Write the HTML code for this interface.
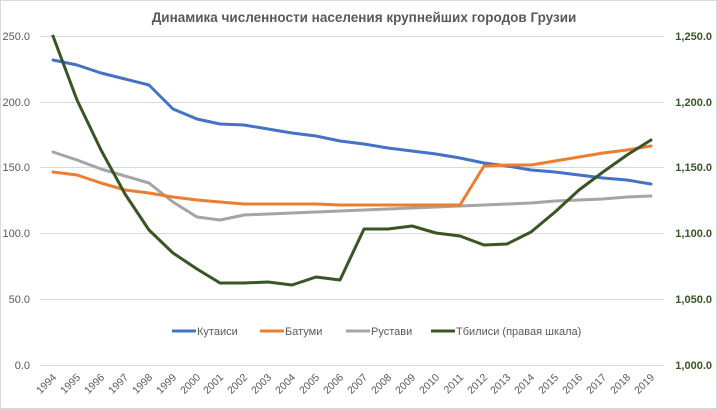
<!DOCTYPE html>
<html><head><meta charset="utf-8"><style>body{margin:0;background:#fff}svg{display:block;font-family:"Liberation Sans",sans-serif}</style></head><body>
<svg width="717" height="409" viewBox="0 0 717 409">
<rect x="0.5" y="0.5" width="716" height="408" fill="#fff" stroke="#d9d9d9"/>
<text x="364" y="22" text-anchor="middle" font-size="13.5" font-weight="bold" fill="#595959">Динамика численности населения крупнейших городов Грузии</text>
<g stroke="#d9d9d9" stroke-width="1">
<line x1="40" x2="664" y1="36.5" y2="36.5"/><line x1="40" x2="664" y1="102.5" y2="102.5"/><line x1="40" x2="664" y1="167.5" y2="167.5"/><line x1="40" x2="664" y1="233.5" y2="233.5"/><line x1="40" x2="664" y1="299.5" y2="299.5"/><line x1="40" x2="664" y1="365.5" y2="365.5"/>
</g>
<g font-size="11" fill="#595959" text-anchor="end">
<text x="30" y="40">250.0</text><text x="30" y="106">200.0</text><text x="30" y="171">150.0</text><text x="30" y="237">100.0</text><text x="30" y="303">50.0</text><text x="30" y="369">0.0</text>
</g>
<g font-size="11" fill="#375623" font-weight="bold" text-anchor="end">
<text x="712" y="40">1,250.0</text><text x="712" y="106">1,200.0</text><text x="712" y="171">1,150.0</text><text x="712" y="237">1,100.0</text><text x="712" y="303">1,050.0</text><text x="712" y="369">1,000.0</text>
</g>
<g font-size="10.5" fill="#595959" text-anchor="end">
<text transform="translate(57,378) rotate(-45)">1994</text><text transform="translate(81,378) rotate(-45)">1995</text><text transform="translate(105,378) rotate(-45)">1996</text><text transform="translate(129,378) rotate(-45)">1997</text><text transform="translate(153,378) rotate(-45)">1998</text><text transform="translate(177,378) rotate(-45)">1999</text><text transform="translate(201,378) rotate(-45)">2000</text><text transform="translate(224,378) rotate(-45)">2001</text><text transform="translate(248,378) rotate(-45)">2002</text><text transform="translate(272,378) rotate(-45)">2003</text><text transform="translate(296,378) rotate(-45)">2004</text><text transform="translate(320,378) rotate(-45)">2005</text><text transform="translate(344,378) rotate(-45)">2006</text><text transform="translate(368,378) rotate(-45)">2007</text><text transform="translate(392,378) rotate(-45)">2008</text><text transform="translate(416,378) rotate(-45)">2009</text><text transform="translate(440,378) rotate(-45)">2010</text><text transform="translate(464,378) rotate(-45)">2011</text><text transform="translate(488,378) rotate(-45)">2012</text><text transform="translate(511,378) rotate(-45)">2013</text><text transform="translate(535,378) rotate(-45)">2014</text><text transform="translate(559,378) rotate(-45)">2015</text><text transform="translate(583,378) rotate(-45)">2016</text><text transform="translate(607,378) rotate(-45)">2017</text><text transform="translate(631,378) rotate(-45)">2018</text><text transform="translate(655,378) rotate(-45)">2019</text>
</g>
<g fill="none" stroke-width="3" stroke-linejoin="round" stroke-linecap="round">
<polyline stroke="#a5a5a5" points="53,152 77,160 101,169 125,176 149,183 173,202 197,217 220,220 244,215 268,214 292,213 316,212 340,211 364,210 388,209 412,208 436,207 460,206 484,205 507,204 531,203 555,201 579,200 603,199 627,197 651,196"/>
<polyline stroke="#4472c4" points="53,60 77,65 101,73 125,79 149,85 173,109 197,119 220,124 244,125 268,129 292,133 316,136 340,141 364,144 388,148 412,151 436,154 460,158 484,163 507,166 531,170 555,172 579,175 603,178 627,180 651,184"/>
<polyline stroke="#ed7d31" points="53,172 77,175 101,183 125,190 149,193 173,197 197,200 220,202 244,204 268,204 292,204 316,204 340,205 364,205 388,205 412,205 436,205 460,205 484,166 507,165 531,165 555,161 579,157 603,153 627,150 651,146"/>
<polyline stroke="#375623" points="53,36 77,100 101,150 125,194 149,230 173,253 197,269 220,283 244,283 268,282 292,285 316,277 340,280 364,229 388,229 412,226 436,233 460,236 484,245 507,244 531,232 555,212 579,190 603,172 627,155 651,140"/>
</g>
<g stroke-width="3">
<line x1="172" x2="196" y1="331" y2="331" stroke="#4472c4"/>
<line x1="260" x2="284" y1="331" y2="331" stroke="#ed7d31"/>
<line x1="346" x2="370" y1="331" y2="331" stroke="#a5a5a5"/>
<line x1="431" x2="455" y1="331" y2="331" stroke="#375623"/>
</g>
<g font-size="11" fill="#595959">
<text x="197" y="335">Кутаиси</text><text x="285" y="335">Батуми</text><text x="371" y="335">Рустави</text><text x="456" y="335">Тбилиси  (правая шкала)</text>
</g>
</svg>
</body></html>
